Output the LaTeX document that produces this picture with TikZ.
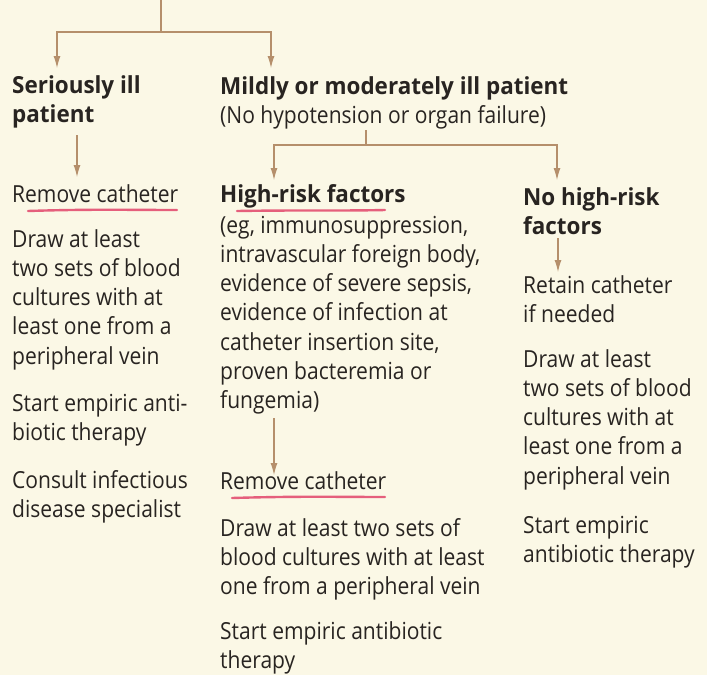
\documentclass[tikz,border=0pt]{standalone}
\usepackage{fontspec}
\setmainfont{Open Sans}[FakeStretch=0.895]
\newfontfamily\hdfont{Open Sans}[FakeStretch=0.955]
\usetikzlibrary{arrows.meta}
\definecolor{bg}{RGB}{251,248,230}
\definecolor{ink}{RGB}{40,36,33}
\definecolor{brn}{RGB}{181,143,107}
\definecolor{hl}{RGB}{226,69,106}
\newcommand\blk[1]{\begin{tabular}[t]{@{}l@{}}#1\end{tabular}}
\tikzset{
  txt/.style={inner sep=0pt, anchor=base west, text=ink, font=\fontsize{23.5}{29.3}\selectfont},
  hd/.style={txt, font=\hdfont\fontsize{23.5}{29.3}\selectfont\bfseries},
  ln/.style={draw=brn, line width=1.1pt},
  arr/.style={ln, -{Latex[length=12pt,width=7pt]}},
  redline/.style={draw=hl, line width=2.4pt, line cap=round, opacity=0.85}
}
\begin{document}
\begin{tikzpicture}[x=1pt,y=-1pt]
\fill[bg] (0,0) rectangle (707,675);
\useasboundingbox (0,0) rectangle (707,675);
% text blocks
\node[hd] (sev) at (12,93) {\blk{Seriously ill\\patient}};
\node[hd] (mild) at (220,94) {Mildly or moderately ill patient};
\node[txt] (mildsub) at (220,123) {(No hypotension or organ failure)};
\node[txt] (rem1) at (12,202) {Remove catheter};
\node[txt] (draw1) at (12,247) {\blk{Draw at least\\two sets of blood\\cultures with at\\least one from a\\peripheral vein}};
\node[txt] (start1) at (12,411) {\blk{Start empiric anti-\\biotic therapy}};
\node[txt] (consult1) at (12,488) {\blk{Consult infectious\\disease specialist}};
\node[hd] (high) at (220,202) {High-risk factors};
\node[txt] (eg) at (220,233) {\blk{(eg, immunosuppression,\\intravascular foreign body,\\evidence of severe sepsis,\\evidence of infection at\\catheter insertion site,\\proven bacteremia or\\fungemia)}};
\node[txt] (rem2) at (220,489) {Remove catheter};
\node[txt] (draw2) at (220,536) {\blk{Draw at least two sets of\\blood cultures with at least\\one from a peripheral vein}};
\node[txt] (start2) at (220,639) {\blk{Start empiric antibiotic\\therapy}};
\node[hd] (nohigh) at (523,205) {\blk{No high-risk\\factors}};
\node[txt] (retain) at (523,293) {\blk{Retain catheter\\if needed}};
\node[txt] (draw3) at (523,367) {\blk{Draw at least\\two sets of blood\\cultures with at\\least one from a\\peripheral vein}};
\node[txt] (start3) at (523,533) {\blk{Start empiric\\antibiotic therapy}};
% connector points
\coordinate (top) at (161,0);
\coordinate (j1) at (161,32);
\coordinate (t1) at (57,68);
\coordinate (t2) at (271,68);
\coordinate (j2a) at (366,130);
\coordinate (j2) at (366,145);
\coordinate (t3) at (274,180);
\coordinate (t4) at (557,180);
\coordinate (s5) at (77,135);
\coordinate (t5) at (77,177);
\coordinate (s6) at (274,418);
\coordinate (t6) at (274,475);
\coordinate (s7) at (558,238);
\coordinate (t7) at (558,272);
% connectors
\draw[ln] (top) -- (j1);
\draw[arr] (j1) -| (t1);
\draw[arr] (j1) -| (t2);
\draw[ln] (j2a) -- (j2);
\draw[arr] (j2) -| (t3);
\draw[arr] (j2) -| (t4);
\draw[arr] (s5) -- (t5);
\draw[arr] (s6) -- (t6);
\draw[arr] (s7) -- (t7);
% red underlines
\draw[redline] (28,211) .. controls (90,209) and (130,210) .. (177,210);
\draw[redline] (237,211) .. controls (300,210) and (340,211) .. (385,210);
\draw[redline] (232,498) .. controls (300,496) and (340,497) .. (385,497);
\end{tikzpicture}
\end{document}
